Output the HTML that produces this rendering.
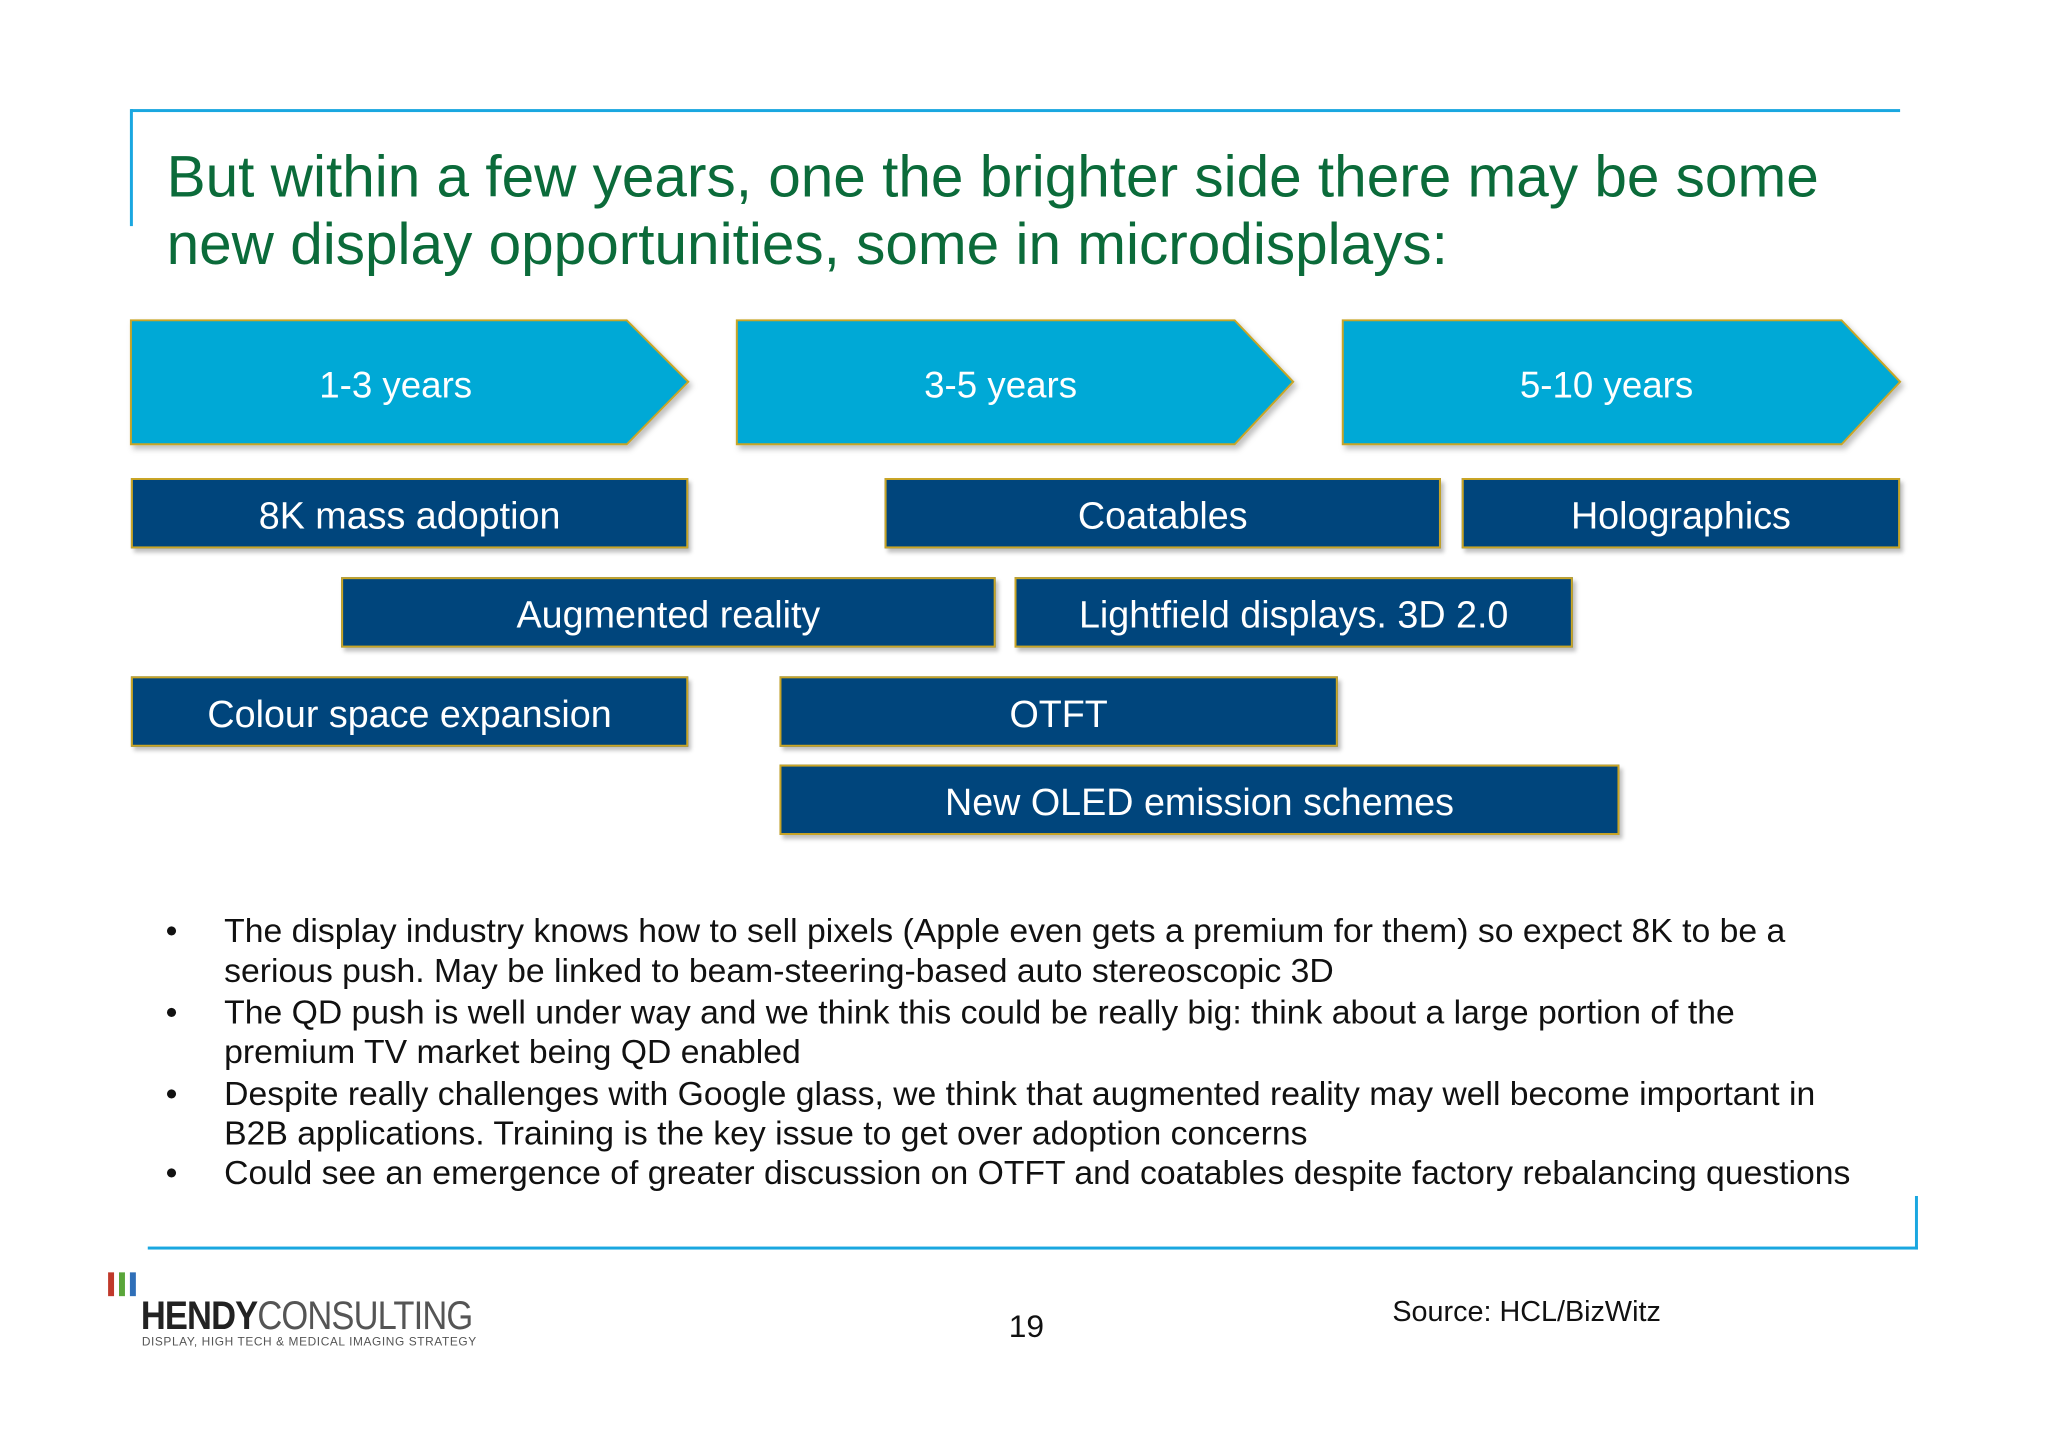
<!DOCTYPE html>
<html><head><meta charset="utf-8"><style>
body{margin:0;width:2048px;height:1447px;background:#fff;position:relative;overflow:hidden;font-family:"Liberation Sans",Arial,sans-serif}
#wrap{position:absolute;left:0;top:0;width:2048px;height:1447px;transform:scale(0.9917);transform-origin:0 0}
.a{position:absolute}
.box{position:absolute;background:#00457c;border:2px solid #c9a526;box-sizing:border-box;color:#fff;font-size:38px;display:flex;align-items:center;justify-content:center;padding-top:8px;box-shadow:3px 4px 4px rgba(0,0,0,0.25)}
.bul{position:absolute;font-size:34px;color:#111;line-height:40px;width:1800px}
.bul div{position:relative;padding-left:59px}
.bul div::before{content:"•";position:absolute;left:0;}
</style></head><body>
<div id="wrap">
<div class="a" style="left:132px;top:110px;width:1784px;height:3px;background:#1aa7e0"></div>
<div class="a" style="left:131px;top:110px;width:3px;height:118px;background:#1aa7e0"></div>
<div class="a" style="left:168px;top:144px;font-size:59px;line-height:68px;color:#0b6b3a;white-space:nowrap">But within a few years, one the brighter side there may be some<br>new display opportunities, some in microdisplays:</div>

<svg class="a" style="left:0;top:0" width="2048" height="1447">
<defs><filter id="s" x="-5%" y="-5%" width="115%" height="125%"><feDropShadow dx="3" dy="4" stdDeviation="3" flood-opacity="0.25"/></filter></defs>
<polygon filter="url(#s)" points="132,323 632,323 694,385 632,448 132,448" fill="#00a9d6" stroke="#c9a526" stroke-width="2"/>
<polygon filter="url(#s)" points="743,323 1245,323 1304,385 1245,448 743,448" fill="#00a9d6" stroke="#c9a526" stroke-width="2"/>
<polygon filter="url(#s)" points="1354,323 1857,323 1916,385 1857,448 1354,448" fill="#00a9d6" stroke="#c9a526" stroke-width="2"/>
<text x="399" y="401" fill="#fff" font-size="37" text-anchor="middle" font-family="Liberation Sans, sans-serif">1-3 years</text>
<text x="1009" y="401" fill="#fff" font-size="37" text-anchor="middle" font-family="Liberation Sans, sans-serif">3-5 years</text>
<text x="1620" y="401" fill="#fff" font-size="37" text-anchor="middle" font-family="Liberation Sans, sans-serif">5-10 years</text>
</svg>

<div class="box" style="left:132px;top:482px;width:562px;height:71px">8K mass adoption</div>
<div class="box" style="left:892px;top:482px;width:561px;height:71px">Coatables</div>
<div class="box" style="left:1474px;top:482px;width:442px;height:71px">Holographics</div>
<div class="box" style="left:344px;top:582px;width:660px;height:71px">Augmented reality</div>
<div class="box" style="left:1023px;top:582px;width:563px;height:71px">Lightfield displays. 3D 2.0</div>
<div class="box" style="left:132px;top:682px;width:562px;height:71px">Colour space expansion</div>
<div class="box" style="left:786px;top:682px;width:563px;height:71px">OTFT</div>
<div class="box" style="left:786px;top:771px;width:847px;height:71px">New OLED emission schemes</div>

<div class="bul" style="left:167px;top:919px">
<div>The display industry knows how to sell pixels (Apple even gets a premium for them) so expect 8K to be a<br>serious push. May be linked to beam-steering-based auto stereoscopic 3D</div>
<div style="margin-top:2px">The QD push is well under way and we think this could be really big: think about a large portion of the<br>premium TV market being QD enabled</div>
<div style="margin-top:2px">Despite really challenges with Google glass, we think that augmented reality may well become important in<br>B2B applications. Training is the key issue to get over adoption concerns</div>
<div>Could see an emergence of greater discussion on OTFT and coatables despite factory rebalancing questions</div>
</div>

<div class="a" style="left:149px;top:1257px;width:1785px;height:3px;background:#1aa7e0"></div>
<div class="a" style="left:1931px;top:1206px;width:3px;height:54px;background:#1aa7e0"></div>

<div class="a" style="left:109px;top:1283px;width:400px;height:110px">
<div class="a" style="left:0;top:0;width:6px;height:24px;background:#c0392b"></div>
<div class="a" style="left:11px;top:0;width:6px;height:24px;background:#5aa63a"></div>
<div class="a" style="left:22px;top:0;width:6px;height:24px;background:#2f6fb8"></div>
<div class="a" style="left:33px;top:22px;font-size:40px;line-height:44px;color:#222;white-space:nowrap;letter-spacing:-1px;transform:scaleX(0.87);transform-origin:0 0"><b>HENDY</b><span style="color:#555">CONSULTING</span></div>
<div class="a" style="left:34px;top:63px;font-size:12px;color:#555;white-space:nowrap;letter-spacing:0.6px">DISPLAY, HIGH TECH &amp; MEDICAL IMAGING STRATEGY</div>
</div>
<div class="a" style="left:1000px;top:1319px;width:70px;text-align:center;font-size:32px;color:#111">19</div>
<div class="a" style="left:1404px;top:1307px;font-size:29px;color:#111">Source: HCL/BizWitz</div>
</div>
</body></html>
